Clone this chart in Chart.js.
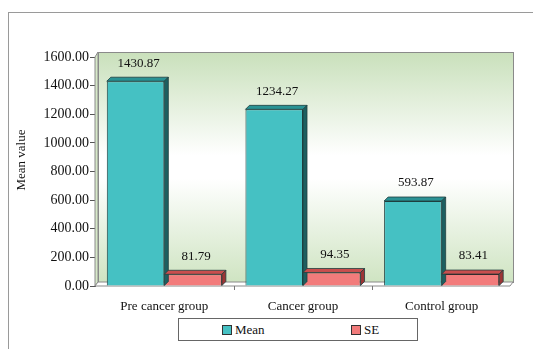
<!DOCTYPE html>
<html lang="en">
<head>
    <title>Mean value by group</title>
    <script src="https://cdn.jsdelivr.net/npm/chart.js"></script>
    <style>
        html, body { margin: 0; padding: 0; background: #fff; }
        #wrap { position: relative; width: 533px; height: 349px; overflow: hidden; }
        /* outer frame, only top and left edges are visible in the picture */
        #frame {
            position: absolute; left: 8px; top: 12px; width: 600px; height: 400px;
            border-left: 1px solid #9a9a9a; border-top: 1px solid #9a9a9a;
        }
        canvas { position: absolute; left: 0; top: 0; }
        #legend {
            position: absolute; left: 178px; top: 318px; width: 238px; height: 21px;
            border: 1px solid #666; background: #fff;
            font: 13px "Liberation Serif", "Times New Roman", serif; color: #111;
        }
        #legend span.item { position: absolute; top: 3px; white-space: nowrap; }
        #legend span.swatch {
            display: inline-block; width: 8px; height: 8px; border: 1px solid #333;
            margin-right: 3px; vertical-align: -1px;
        }
    </style>
</head>
<body>
<div id="wrap">
    <div id="frame"></div>
    <canvas id="chart" width="533" height="349"></canvas>
    <div id="legend"></div>
</div>

<script>
    // data
    const groups = ['Pre cancer group', 'Cancer group', 'Control group'];
    const meanValues = [1430.87, 1234.27, 593.87];
    const seValues = [81.79, 94.35, 83.41];
    const yTicks = [0, 200, 400, 600, 800, 1000, 1200, 1400, 1600];
    const yTitle = 'Mean value';

    const DEPTH_X = 4, DEPTH_Y = 4;
    const serif = '"Liberation Serif", "Times New Roman", serif';

    // back wall, side wall and floor in fake 3D
    const wallPlugin = {
        id: 'wall',
        beforeDatasetsDraw(chart) {
            const { ctx, chartArea: a } = chart;
            const top = a.top - 5, bottom = a.bottom - DEPTH_Y;
            const left = a.left + 3, right = a.right + 2;
            ctx.save();
            const g = ctx.createLinearGradient(0, top, 0, bottom);
            g.addColorStop(0, '#c9e0bb');
            g.addColorStop(0.45, '#ffffff');
            g.addColorStop(0.55, '#ffffff');
            g.addColorStop(1, '#cfe4c2');
            ctx.fillStyle = g;
            ctx.fillRect(left, top, right - left, bottom - top);
            ctx.strokeStyle = '#8a8a8a';
            ctx.lineWidth = 1;
            ctx.strokeRect(left + 0.5, top + 0.5, right - left, bottom - top);

            // left side wall
            ctx.beginPath();
            ctx.moveTo(a.left, a.top);
            ctx.lineTo(left, top);
            ctx.lineTo(left, bottom);
            ctx.lineTo(a.left, a.bottom);
            ctx.closePath();
            ctx.fillStyle = '#d6e8c8';
            ctx.fill();
            ctx.stroke();

            // floor
            ctx.beginPath();
            ctx.moveTo(a.left, a.bottom);
            ctx.lineTo(left, bottom);
            ctx.lineTo(right, bottom);
            ctx.lineTo(right - 3, a.bottom);
            ctx.closePath();
            ctx.fillStyle = '#ffffff';
            ctx.fill();
            ctx.stroke();

            // small ticks between categories under the floor
            const xs = chart.scales.x;
            ctx.strokeStyle = '#777';
            for (let i = 1; i < groups.length; i++) {
                const x = Math.round((xs.getPixelForTick(i - 1) + xs.getPixelForTick(i)) / 2) + 0.5;
                ctx.beginPath();
                ctx.moveTo(x, a.bottom);
                ctx.lineTo(x, a.bottom + 4);
                ctx.stroke();
            }

            // axis title, sitting a little above the middle like the original
            ctx.translate(22, 160);
            ctx.rotate(-Math.PI / 2);
            ctx.fillStyle = '#111';
            ctx.font = '13px ' + serif;
            ctx.textAlign = 'center';
            ctx.textBaseline = 'middle';
            ctx.fillText(yTitle, 0, 0);
            ctx.restore();
        }
    };

    // top and side faces of each bar, plus value labels
    const barFacePlugin = {
        id: 'barFaces',
        afterDatasetsDraw(chart) {
            const ctx = chart.ctx;
            const tops = ['#2a9294', '#c94e4e'];
            const sides = ['#1d5f60', '#9c3535'];
            chart.data.datasets.forEach((ds, di) => {
                chart.getDatasetMeta(di).data.forEach((bar, i) => {
                    const l = bar.x - bar.width / 2, r = bar.x + bar.width / 2;
                    const y = bar.y, b = bar.base;
                    ctx.save();
                    ctx.strokeStyle = '#1f3f3f';
                    ctx.lineWidth = 0.8;
                    ctx.beginPath();
                    ctx.moveTo(l, y);
                    ctx.lineTo(l + DEPTH_X, y - DEPTH_Y);
                    ctx.lineTo(r + DEPTH_X, y - DEPTH_Y);
                    ctx.lineTo(r, y);
                    ctx.closePath();
                    ctx.fillStyle = tops[di];
                    ctx.fill();
                    ctx.stroke();
                    ctx.beginPath();
                    ctx.moveTo(r, y);
                    ctx.lineTo(r + DEPTH_X, y - DEPTH_Y);
                    ctx.lineTo(r + DEPTH_X, b - DEPTH_Y);
                    ctx.lineTo(r, b);
                    ctx.closePath();
                    ctx.fillStyle = sides[di];
                    ctx.fill();
                    ctx.stroke();

                    ctx.fillStyle = '#111';
                    ctx.font = '13px ' + serif;
                    ctx.textAlign = 'center';
                    ctx.textBaseline = 'middle';
                    ctx.fillText(ds.data[i].toFixed(2), bar.x + 3, y - 18);
                    ctx.restore();
                });
            });
        }
    };

    const chart = new Chart(document.getElementById('chart').getContext('2d'), {
        type: 'bar',
        data: {
            labels: groups,
            datasets: [{
                label: 'Mean',
                data: meanValues,
                backgroundColor: '#45c1c3',
                borderColor: '#1f3f3f',
                borderWidth: 1
            }, {
                label: 'SE',
                data: seValues,
                backgroundColor: '#f27b7b',
                borderColor: '#3f1f1f',
                borderWidth: 1
            }]
        },
        options: {
            responsive: false,
            animation: false,
            layout: { padding: { left: 0, right: 22, top: 57, bottom: 33 } },
            datasets: { bar: { categoryPercentage: 0.83, barPercentage: 1 } },
            plugins: {
                tooltip: { enabled: false },
                legend: { display: false }
            },
            scales: {
                x: {
                    afterFit(scale) { scale.height = 30; },
                    grid: { display: false },
                    border: { display: false },
                    ticks: { font: { family: serif, size: 13 }, color: '#111', padding: 5 }
                },
                y: {
                    min: 0,
                    max: 1600,
                    afterBuildTicks(scale) { scale.ticks = yTicks.map(v => ({ value: v })); },
                    afterFit(scale) { scale.width = 95; },
                    grid: { drawOnChartArea: false, tickLength: 5, color: '#555' },
                    border: { color: '#555' },
                    ticks: {
                        font: { family: serif, size: 14 },
                        color: '#111',
                        padding: 1,
                        callback: v => Number(v).toFixed(2)
                    }
                }
            }
        },
        plugins: [wallPlugin, barFacePlugin]
    });

    // legend in a box, built from the datasets
    const legendEl = document.getElementById('legend');
    const itemLeft = [43, 172];
    chart.data.datasets.forEach((ds, i) => {
        const item = document.createElement('span');
        item.className = 'item';
        item.style.left = itemLeft[i] + 'px';
        const sw = document.createElement('span');
        sw.className = 'swatch';
        sw.style.background = ds.backgroundColor;
        item.appendChild(sw);
        item.appendChild(document.createTextNode(ds.label));
        legendEl.appendChild(item);
    });
</script>
</body>
</html>
